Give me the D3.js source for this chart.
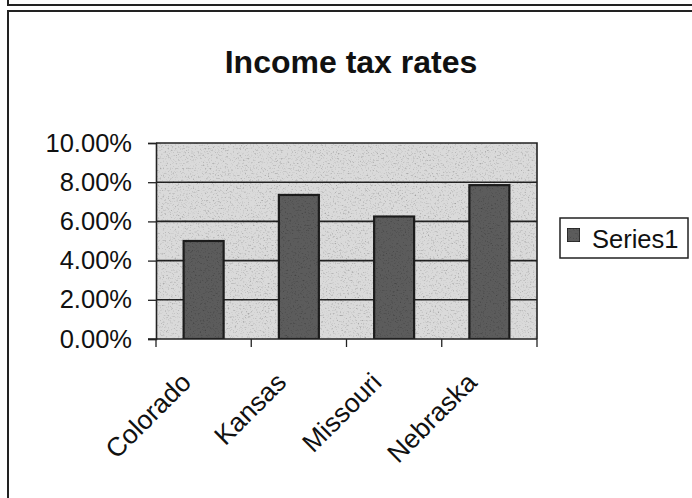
<!DOCTYPE html>
<html>
<head>
<meta charset="utf-8">
<script src="https://cdn.jsdelivr.net/npm/d3@7"></script>
<style>
  html, body { margin: 0; padding: 0; background: #fff; }
  svg { display: block; }
  text { font-family: "Liberation Sans", Arial, sans-serif; fill: #111; }
</style>
</head>
<body>
<svg id="chart" width="692" height="498"></svg>
<script>
// Income tax rates by state
const categories = ["Colorado", "Kansas", "Missouri", "Nebraska"];
const series1 = [0.050, 0.0735, 0.0625, 0.0785];
const yTicks = [0, 0.02, 0.04, 0.06, 0.08, 0.10];
const seriesName = "Series1";
const title = "Income tax rates";

const svg = d3.select("#chart");

// speckled print texture
const defs = svg.append("defs");
const grain = defs.append("filter").attr("id", "grain")
  .attr("x", 0).attr("y", 0).attr("width", "100%").attr("height", "100%");
grain.append("feTurbulence").attr("type", "fractalNoise")
  .attr("baseFrequency", 0.6).attr("numOctaves", 2).attr("seed", 7).attr("result", "noise");
grain.append("feColorMatrix").attr("in", "noise").attr("type", "matrix")
  .attr("values", "1.4 0 0 0 0.36  1.4 0 0 0 0.36  1.4 0 0 0 0.36  0 0 0 0 1")
  .attr("result", "speck");
grain.append("feBlend").attr("in", "SourceGraphic").attr("in2", "speck").attr("mode", "multiply").attr("result", "mix");
grain.append("feComposite").attr("in", "mix").attr("in2", "SourceGraphic").attr("operator", "in");

// outer frames
svg.append("path").attr("d", "M8,0 V5 H692").attr("fill", "none").attr("stroke", "#222").attr("stroke-width", 2);
svg.append("path").attr("d", "M692,11 H8 V498").attr("fill", "none").attr("stroke", "#222").attr("stroke-width", 2);

const plot = { left: 156, right: 537, top: 143, bottom: 339 };

const x = d3.scaleBand().domain(categories)
  .range([plot.left, plot.right]).paddingInner(0.58).paddingOuter(0.29);
const xEdge = d3.scaleBand().domain(categories).range([plot.left, plot.right]);
const y = d3.scaleLinear().domain([0, 0.10]).range([plot.bottom, plot.top]);

// title
svg.append("text").attr("x", 351).attr("y", 73).attr("text-anchor", "middle")
  .style("font-size", "32px").style("font-weight", "bold").text(title);

// plot area
const area = svg.append("g").attr("filter", "url(#grain)");
area.append("rect").attr("x", plot.left).attr("y", plot.top)
  .attr("width", plot.right - plot.left).attr("height", plot.bottom - plot.top)
  .attr("fill", "#dadada");
area.selectAll("line.grid").data(yTicks.filter(d => d > 0 && d < 0.10)).join("line")
  .attr("class", "grid")
  .attr("x1", plot.left).attr("x2", plot.right)
  .attr("y1", d => y(d)).attr("y2", d => y(d))
  .attr("stroke", "#222").attr("stroke-width", 1.6);
area.selectAll("rect.bar").data(series1).join("rect")
  .attr("class", "bar")
  .attr("x", (d, i) => x(categories[i]))
  .attr("width", x.bandwidth())
  .attr("y", d => y(d))
  .attr("height", d => y(0) - y(d))
  .attr("fill", "#5c5c5c").attr("stroke", "#1e1e1e").attr("stroke-width", 2.2);

// plot border (top, right)
svg.append("path")
  .attr("d", `M${plot.left},${plot.top} H${plot.right} V${plot.bottom}`)
  .attr("fill", "none").attr("stroke", "#222").attr("stroke-width", 1.6);

// y axis
const yAxis = d3.axisLeft(y).tickValues(yTicks).tickFormat(d3.format(".2%"))
  .tickSize(8).tickPadding(16);
const gy = svg.append("g").attr("transform", `translate(${plot.left},0)`).call(yAxis);
gy.select(".domain").attr("stroke", "#222").attr("stroke-width", 1.6);
gy.selectAll(".tick line").attr("stroke", "#222").attr("stroke-width", 1.3);
gy.selectAll(".tick text").style("font-size", "25.5px").attr("fill", "#111")
  .style("font-family", "'Liberation Sans', Arial, sans-serif");

// x axis: line with ticks at category boundaries
const gx = svg.append("g");
gx.append("line").attr("x1", plot.left - 8).attr("x2", plot.right)
  .attr("y1", plot.bottom).attr("y2", plot.bottom)
  .attr("stroke", "#222").attr("stroke-width", 1.6);
const edges = categories.map(c => xEdge(c)).concat([plot.right]);
gx.selectAll("line.tick").data(edges).join("line").attr("class", "tick")
  .attr("x1", d => d).attr("x2", d => d)
  .attr("y1", plot.bottom).attr("y2", plot.bottom + 8)
  .attr("stroke", "#222").attr("stroke-width", 1.3);
gx.selectAll("text.cat").data(categories).join("text").attr("class", "cat")
  .attr("text-anchor", "end")
  .attr("transform", d => `translate(${xEdge(d) + xEdge.bandwidth() / 2 - 11},384) rotate(-45)`)
  .style("font-size", "26.5px")
  .text(d => d);

// legend
const lg = svg.append("g");
lg.append("rect").attr("x", 560).attr("y", 218).attr("width", 128).attr("height", 40)
  .attr("fill", "#fff").attr("stroke", "#222").attr("stroke-width", 1.5);
lg.append("rect").attr("x", 567).attr("y", 228).attr("width", 13).attr("height", 14)
  .attr("fill", "#5c5c5c").attr("stroke", "#1e1e1e").attr("stroke-width", 1.5)
  .attr("filter", "url(#grain)");
lg.append("text").attr("x", 592).attr("y", 248).style("font-size", "25.5px").text(seriesName);
</script>
</body>
</html>
